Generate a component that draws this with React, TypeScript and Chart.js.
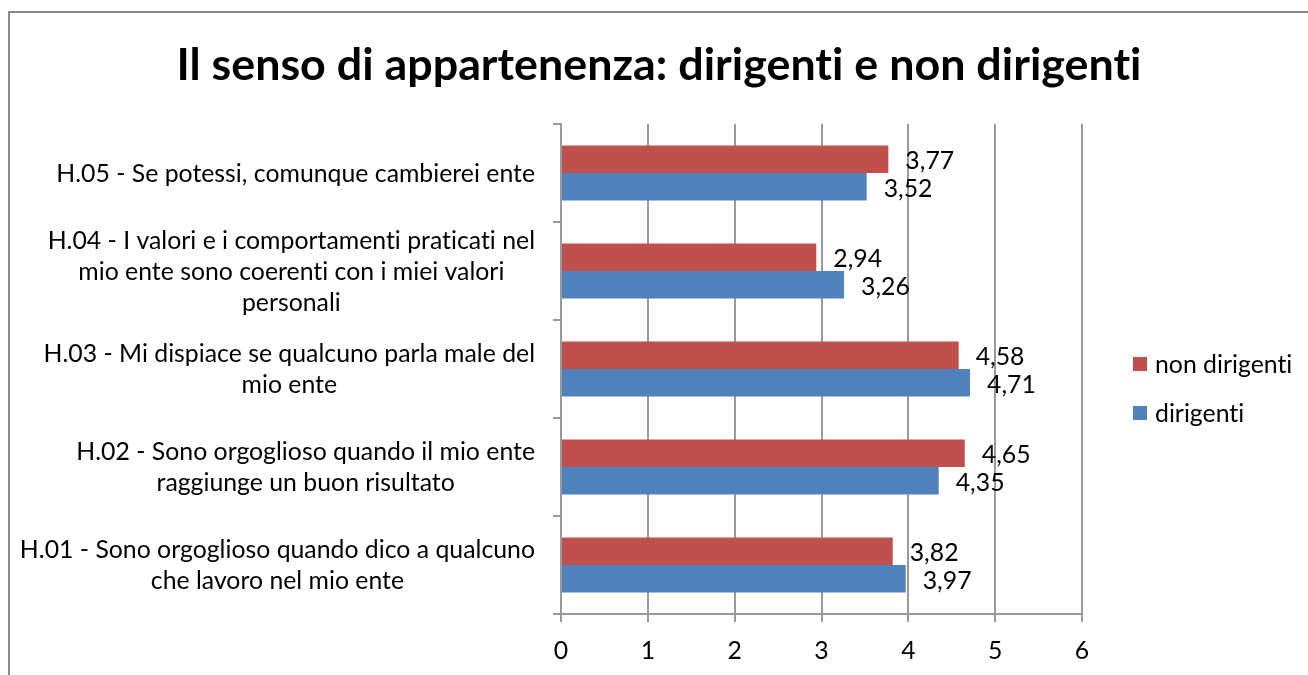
import { useEffect, useRef } from "react";
import { Chart, registerables } from "chart.js";

Chart.register(...registerables);

const TITLE = "Il senso di appartenenza: dirigenti e non dirigenti";

const categories: string[][] = [
  ["H.05 - Se potessi, comunque cambierei ente"],
  [
    "H.04 - I valori e i comportamenti praticati nel",
    "mio ente sono coerenti con i miei valori",
    "personali",
  ],
  ["H.03 - Mi dispiace se qualcuno parla male del", "mio ente"],
  ["H.02 - Sono orgoglioso quando il mio ente", "raggiunge un buon risultato"],
  ["H.01 - Sono orgoglioso quando dico a qualcuno", "che lavoro nel mio ente"],
];

const seriesNames = ["non dirigenti", "dirigenti"];
const nonDirigenti = [3.77, 2.94, 4.58, 4.65, 3.82];
const dirigenti = [3.52, 3.26, 4.71, 4.35, 3.97];
const xTicks = [0, 1, 2, 3, 4, 5, 6];
const seriesColors = ["#C0504D", "#4F81BD"];

const FONT = "Lato";
const LABEL_SIZE = 24.8;
const TITLE_SIZE = 44.8;
const GRID = "#9a9a9a";

const fmt = (v: number) => v.toFixed(2).replace(".", ",");

const noLig = (ctx: any) => {
  try {
    ctx.letterSpacing = "0.01px";
  } catch (e) {
    /* ignore */
  }
};

const customPlugin = {
  id: "customDraw",
  beforeDraw(chart: any) {
    const { ctx, width, height } = chart;
    ctx.save();
    ctx.fillStyle = "#ffffff";
    ctx.fillRect(0, 0, width, height);
    ctx.fillStyle = "#8a8a8a";
    ctx.fillRect(8, 11, 2, height);
    ctx.fillRect(8, 11, width, 2);
    ctx.restore();
  },
  afterDatasetsDraw(chart: any) {
    const { ctx } = chart;
    ctx.save();
    noLig(ctx);
    ctx.font = `${LABEL_SIZE}px ${FONT}`;
    ctx.fillStyle = "#000000";
    ctx.textAlign = "left";
    ctx.textBaseline = "middle";
    chart.data.datasets.forEach((ds: any, di: number) => {
      const meta = chart.getDatasetMeta(di);
      meta.data.forEach((el: any, i: number) => {
        ctx.fillText(fmt(ds.data[i]), el.x + 17, el.y + 2);
      });
    });
    ctx.restore();
  },
  afterDraw(chart: any) {
    const { ctx } = chart;
    const yScale = chart.scales.y;
    ctx.save();
    noLig(ctx);
    // title
    ctx.font = `bold ${TITLE_SIZE}px ${FONT}`;
    ctx.fillStyle = "#000000";
    ctx.textAlign = "center";
    ctx.textBaseline = "alphabetic";
    ctx.fillText(TITLE, 659, 80);

    // category labels (each block right aligned, lines centered)
    ctx.font = `${LABEL_SIZE}px ${FONT}`;
    ctx.textBaseline = "middle";
    const lh = 31;
    const rightEdge = 535;
    categories.forEach((lines, i) => {
      const cy = yScale.getPixelForValue(i);
      const widest = Math.max(...lines.map((l) => ctx.measureText(l).width));
      const cx = rightEdge - widest / 2;
      const startY = cy - ((lines.length - 1) * lh) / 2;
      ctx.textAlign = "center";
      lines.forEach((l, k) => ctx.fillText(l, cx, startY + k * lh + 1));
    });

    // legend
    ctx.textAlign = "left";
    const legendY = [364, 413];
    seriesNames.forEach((name, k) => {
      ctx.fillStyle = seriesColors[k];
      ctx.fillRect(1133, legendY[k] - 7, 14, 14);
      ctx.fillStyle = "#000000";
      ctx.fillText(name, 1155, legendY[k] + 1);
    });
    ctx.restore();
  },
};

export default function App() {
  const ref = useRef<HTMLCanvasElement | null>(null);

  useEffect(() => {
    if (!ref.current) return;
    const chart = new Chart(ref.current, {
      type: "bar",
      data: {
        labels: categories.map((c) => c.join(" ")),
        datasets: [
          {
            label: seriesNames[0],
            data: nonDirigenti,
            backgroundColor: seriesColors[0],
            borderWidth: 0,
            barPercentage: 1,
            categoryPercentage: 0.56,
          },
          {
            label: seriesNames[1],
            data: dirigenti,
            backgroundColor: seriesColors[1],
            borderWidth: 0,
            barPercentage: 1,
            categoryPercentage: 0.56,
          },
        ],
      },
      options: {
        indexAxis: "y",
        responsive: false,
        animation: false,
        layout: { padding: { left: 10, right: 226, top: 124, bottom: 0 } },
        plugins: {
          legend: { display: false },
          title: { display: false },
          tooltip: { enabled: false },
        },
        scales: {
          x: {
            type: "linear",
            position: "bottom",
            min: 0,
            max: 6,
            afterBuildTicks: (s: any) => {
              s.ticks = xTicks.map((v) => ({ value: v }));
            },
            afterFit: (s: any) => {
              s.height = 61;
            },
            grid: {
              color: GRID,
              lineWidth: 2,
              tickLength: 8,
              drawTicks: true,
            },
            border: { display: true, color: GRID, width: 2 },
            ticks: {
              color: "#000000",
              padding: 14,
              font: { family: FONT, size: LABEL_SIZE },
              maxRotation: 0,
            },
          },
          y: {
            type: "category",
            position: "left",
            afterFit: (s: any) => {
              s.width = 551;
            },
            grid: {
              color: GRID,
              lineWidth: 2,
              drawOnChartArea: false,
              drawTicks: true,
              tickLength: 8,
              offset: true,
            },
            border: { display: true, color: GRID, width: 2 },
            ticks: { display: false },
          },
        },
      },
      plugins: [customPlugin],
    });
    return () => chart.destroy();
  }, []);

  return (
    <canvas
      ref={ref}
      width={1308}
      height={675}
      style={{ position: "fixed", left: 0, top: 0, width: 1308, height: 675 }}
    />
  );
}
